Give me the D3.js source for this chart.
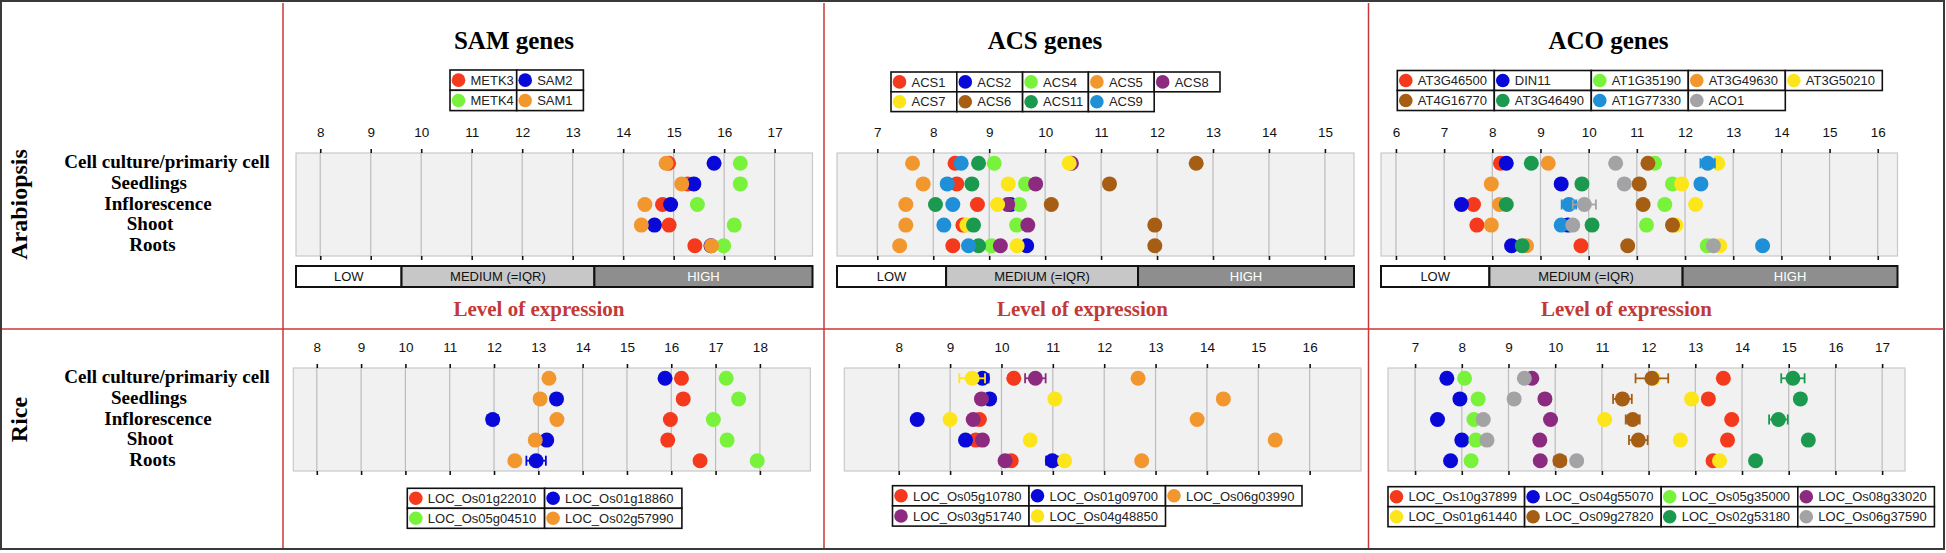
<!DOCTYPE html>
<html><head><meta charset="utf-8">
<script src="https://cdn.jsdelivr.net/npm/d3@7"></script>
<style>body{margin:0;background:#fff}svg{display:block}</style>
</head><body><svg id="c" width="1946" height="553"></svg>
<script>
// ---------------- DATA ----------------
const tissues = ["Cell culture/primariy cell", "Seedlings", "Inflorescence", "Shoot", "Roots"];
const speciesLabels = ["Arabiopsis", "Rice"];
const panelTitles = ["SAM genes", "ACS genes", "ACO genes"];
const levelLabels = ["LOW", "MEDIUM (=IQR)", "HIGH"];
const levelAxisTitle = "Level of expression";

const RED = "#f5391c", BLUE = "#0808d8", LGREEN = "#78f23a", ORANGE = "#f2962e", PURPLE = "#8c2a80",
      YELLOW = "#fde51c", BROWN = "#a55e14", DGREEN = "#1b9a4f", SKY = "#1f8fd8", GRAY = "#a3a3a5";

// Arabidopsis SAM
const samAtGenes = ["METK3", "SAM2", "METK4", "SAM1"];
const samAtColors = [RED, BLUE, LGREEN, ORANGE];
const samAtValues = [
  [14.90, 15.28, 14.78, 14.91, 15.42],
  [15.80, 15.40, 14.94, 14.62, 15.74],
  [16.32, 16.32, 15.47, 16.20, 15.99],
  [14.85, 15.16, 14.43, 14.36, 15.75]
];
const samAtErrors = [[0,0,0,0,0],[0,0,0,0,0],[0,0,0,0,0],[0,0,0,0,0]];
const samAtTicks = [8, 9, 10, 11, 12, 13, 14, 15, 16, 17];
const samAtDomain = [7.52, 17.75];
const samAtLevelCuts = [9.61, 13.43];

// Arabidopsis ACS
const acsAtGenes = ["ACS1", "ACS2", "ACS4", "ACS5", "ACS8", "ACS7", "ACS6", "ACS11", "ACS9"];
const acsAtColors = [RED, BLUE, LGREEN, ORANGE, PURPLE, YELLOW, BROWN, DGREEN, SKY];
const acsAtValues = [
  [8.39, 8.42, 8.79, 8.53, 8.35],
  [null, null, 9.38, null, 9.67],
  [9.09, 9.65, 9.54, 9.49, 9.04],
  [7.63, 7.82, 7.51, 7.51, 7.40],
  [10.47, 9.83, 9.33, 9.69, 9.20],
  [10.43, 9.34, 9.15, 8.60, 9.50],
  [12.70, 11.15, 10.11, 11.96, 11.96],
  [8.81, 8.69, 8.04, 8.72, 8.81],
  [8.50, 8.25, 8.35, 8.19, 8.63]
];
const acsAtErrors = [[0,0,0,0,0],[0,0,0,0,0],[0,0,0,0,0],[0,0,0,0,0],[0,0,0.1,0,0],[0,0,0,0,0],[0,0,0,0,0],[0,0,0,0,0],[0,0,0,0,0]];
const acsAtTicks = [7, 8, 9, 10, 11, 12, 13, 14, 15];
const acsAtDomain = [6.28, 15.52];
const acsAtLevelCuts = [8.23, 11.66];

// Arabidopsis ACO
const acoAtGenes = ["AT3G46500", "DIN11", "AT1G35190", "AT3G49630", "AT3G50210", "AT4G16770", "AT3G46490", "AT1G77330", "ACO1"];
const acoAtColors = [RED, BLUE, LGREEN, ORANGE, YELLOW, BROWN, DGREEN, SKY, GRAY];
const acoAtValues = [
  [8.17, null, 7.61, 7.68, 9.84],
  [8.29, 9.43, 7.36, 9.57, 8.40],
  [11.37, 11.74, 11.58, 11.20, 12.46],
  [9.16, 7.98, 8.15, 7.98, 8.71],
  [12.68, 11.93, 12.22, 11.81, 12.72],
  [11.23, 11.05, 11.13, 11.74, 10.81],
  [8.81, 9.86, 8.29, 10.07, 8.62],
  [12.47, 12.33, 9.59, 9.43, 13.61],
  [10.56, 10.74, 9.91, 9.67, 12.59]
];
const acoAtErrors = [[0,0,0,0,0],[0,0,0,0,0],[0,0,0.1,0,0],[0,0,0,0,0],[0,0,0,0,0],[0,0,0,0,0],[0,0,0,0,0],[0.15,0,0.15,0,0],[0,0,0.24,0,0]];
const acoAtTicks = [6, 7, 8, 9, 10, 11, 12, 13, 14, 15, 16];
const acoAtDomain = [5.69, 16.41];
const acoAtLevelCuts = [7.94, 11.95];

// Rice SAM
const samOsGenes = ["LOC_Os01g22010", "LOC_Os01g18860", "LOC_Os05g04510", "LOC_Os02g57990"];
const samOsColors = [RED, BLUE, LGREEN, ORANGE];
const samOsValues = [
  [16.23, 16.27, 15.98, 15.92, 16.65],
  [15.86, 13.41, 11.97, 13.19, 12.95],
  [17.24, 17.52, 16.95, 17.26, 17.94],
  [13.24, 13.04, 13.42, 12.93, 12.47]
];
const samOsErrors = [[0,0,0,0,0],[0,0,0.12,0,0.22],[0,0,0,0,0],[0,0,0,0,0]];
const samOsTicks = [8, 9, 10, 11, 12, 13, 14, 15, 16, 17, 18];
const samOsDomain = [7.47, 19.14];

// Rice ACS
const acsOsGenes = ["LOC_Os05g10780", "LOC_Os01g09700", "LOC_Os06g03990", "LOC_Os03g51740", "LOC_Os04g48850"];
const acsOsColors = [RED, BLUE, ORANGE, PURPLE, YELLOW];
const acsOsValues = [
  [10.24, null, 9.57, 9.50, 10.19],
  [9.63, 9.77, 8.36, 9.30, 10.99],
  [12.66, 14.32, 13.81, 15.33, 12.73],
  [10.66, 9.61, 9.45, 9.63, 10.07],
  [9.43, 11.04, 9.00, 10.56, 11.23]
];
const acsOsErrors = [[0,0,0,0,0],[0.12,0,0,0,0.12],[0,0,0,0,0],[0.2,0,0,0,0],[0.25,0,0,0,0]];
const acsOsTicks = [8, 9, 10, 11, 12, 13, 14, 15, 16];
const acsOsDomain = [6.94, 17.0];

// Rice ACO
const acoOsGenes = ["LOC_Os10g37899", "LOC_Os04g55070", "LOC_Os05g35000", "LOC_Os08g33020", "LOC_Os01g61440", "LOC_Os09g27820", "LOC_Os02g53180", "LOC_Os06g37590"];
const acoOsColors = [RED, BLUE, LGREEN, PURPLE, YELLOW, BROWN, DGREEN, GRAY];
const acoOsValues = [
  [13.60, 13.28, 13.78, 13.69, 13.38],
  [7.68, 7.96, 7.48, 8.00, 7.76],
  [8.06, 8.35, 8.26, 8.30, 8.20],
  [9.50, 9.78, 9.90, 9.67, 9.68],
  [12.10, 12.92, 11.06, 12.68, 13.52],
  [12.07, 11.44, 11.66, 11.78, 10.10],
  [15.09, 15.25, 14.78, 15.42, 14.29],
  [9.34, 9.12, 8.46, 8.54, 10.46]
];
const acoOsErrors = [[0,0,0,0,0],[0,0,0,0,0],[0,0,0,0,0],[0,0,0,0,0],[0,0,0,0,0],[0.35,0.2,0.15,0.2,0.12],[0.25,0,0.2,0,0],[0,0,0,0,0]];
const acoOsTicks = [7, 8, 9, 10, 11, 12, 13, 14, 15, 16, 17];
const acoOsDomain = [6.42, 17.49];

// ---------------- LAYOUT ----------------
const SERIF = "'Liberation Serif','Times New Roman',serif";
const SANS = "'Liberation Sans',Arial,sans-serif";
const svg = d3.select("#c");

const panels = [
  {genes: samAtGenes, colors: samAtColors, values: samAtValues, errors: samAtErrors, ticks: samAtTicks, domain: samAtDomain, cuts: samAtLevelCuts, title: panelTitles[0],
   x0: 296, x1: 812.5, y0: 153, y1: 256, leg: {x: 450, y: 70, w: 66.7, h: 20.3, cols: 2}, titleX: 514, lvlX: 539},
  {genes: acsAtGenes, colors: acsAtColors, values: acsAtValues, errors: acsAtErrors, ticks: acsAtTicks, domain: acsAtDomain, cuts: acsAtLevelCuts, title: panelTitles[1],
   x0: 837, x1: 1354, y0: 153, y1: 256, leg: {x: 891, y: 72, w: 65.8, h: 19.8, cols: 5}, titleX: 1045, lvlX: 1082.5},
  {genes: acoAtGenes, colors: acoAtColors, values: acoAtValues, errors: acoAtErrors, ticks: acoAtTicks, domain: acoAtDomain, cuts: acoAtLevelCuts, title: panelTitles[2],
   x0: 1381, x1: 1897.5, y0: 153, y1: 256, leg: {x: 1397.3, y: 70.5, w: 97, h: 20, cols: 5}, titleX: 1608.5, lvlX: 1626.5},
  {genes: samOsGenes, colors: samOsColors, values: samOsValues, errors: samOsErrors, ticks: samOsTicks, domain: samOsDomain,
   x0: 293.3, x1: 810.4, y0: 368, y1: 471, leg: {x: 407.3, y: 488.3, w: 137.3, h: 20, cols: 2}},
  {genes: acsOsGenes, colors: acsOsColors, values: acsOsValues, errors: acsOsErrors, ticks: acsOsTicks, domain: acsOsDomain,
   x0: 844.3, x1: 1361, y0: 368, y1: 471, leg: {x: 892.5, y: 485.7, w: 136.5, h: 20.2, cols: 3}},
  {genes: acoOsGenes, colors: acoOsColors, values: acoOsValues, errors: acoOsErrors, ticks: acoOsTicks, domain: acoOsDomain,
   x0: 1388, x1: 1905, y0: 368, y1: 471, leg: {x: 1388, y: 486.7, w: 136.6, h: 20, cols: 4}}
];

// frame
svg.append("rect").attr("x", 1).attr("y", 1).attr("width", 1943).attr("height", 548)
  .attr("fill", "none").attr("stroke", "#3a3a3a").attr("stroke-width", 2);
const frameRed = "#c9383a";
[283, 824, 1368.5].forEach(x => svg.append("line").attr("x1", x).attr("x2", x).attr("y1", 3).attr("y2", 548)
  .attr("stroke", frameRed).attr("stroke-width", 1.5));
svg.append("line").attr("x1", 2).attr("x2", 1944).attr("y1", 329).attr("y2", 329)
  .attr("stroke", frameRed).attr("stroke-width", 1.5);

// species + tissue labels
const labelCenters = [167, 149, 158, 150, 152.5];
const rowBands = [[153, 256], [368, 471]];
rowBands.forEach((rb, si) => {
  const y = d3.scaleBand().domain(tissues).range(rb);
  const mid = (rb[0] + rb[1]) / 2;
  svg.append("text").attr("transform", `translate(27,${mid}) rotate(-90)`)
    .attr("text-anchor", "middle").attr("font-family", SERIF).attr("font-weight", "bold")
    .attr("font-size", 24).text(speciesLabels[si]);
  tissues.forEach((t, j) => {
    svg.append("text").attr("x", labelCenters[j]).attr("y", y(t) + y.bandwidth() / 2 + 5)
      .attr("text-anchor", "middle").attr("font-family", SERIF).attr("font-weight", "bold")
      .attr("font-size", 19).text(t);
  });
});

function drawPanel(p) {
  const g = svg.append("g");
  const x = d3.scaleLinear().domain(p.domain).range([p.x0, p.x1]);
  const y = d3.scaleBand().domain(tissues).range([p.y0, p.y1]);
  const cy = t => y(t) + y.bandwidth() / 2;

  g.append("rect").attr("x", p.x0).attr("y", p.y0).attr("width", p.x1 - p.x0).attr("height", p.y1 - p.y0)
    .attr("fill", "#f1f1f1").attr("stroke", "#c9c9c9").attr("stroke-width", 1.2);
  g.selectAll(".grid").data(p.ticks).join("line")
    .attr("x1", d => x(d)).attr("x2", d => x(d)).attr("y1", p.y0).attr("y2", p.y1)
    .attr("stroke", "#bcbcbc").attr("stroke-width", 1.2);

  const top = g.append("g").attr("transform", `translate(0,${p.y0})`)
    .call(d3.axisTop(x).tickValues(p.ticks).tickSize(4).tickPadding(12).tickFormat(d3.format("d")));
  const bot = g.append("g").attr("transform", `translate(0,${p.y1})`)
    .call(d3.axisBottom(x).tickValues(p.ticks).tickSize(4).tickFormat(""));
  [top, bot].forEach(a => {
    a.select(".domain").remove();
    a.selectAll(".tick line").attr("stroke", "#111").attr("stroke-width", 1.6);
    a.selectAll(".tick text").attr("font-family", SANS).attr("font-size", 13.5).attr("fill", "#111");
  });

  // error bars + dots
  p.genes.forEach((gn, i) => {
    tissues.forEach((t, j) => {
      const v = p.values[i][j], e = p.errors[i][j];
      if (v == null) return;
      if (e) {
        const eg = g.append("g").attr("stroke", p.colors[i]).attr("stroke-width", 1.8);
        eg.append("line").attr("x1", x(v - e)).attr("x2", x(v + e)).attr("y1", cy(t)).attr("y2", cy(t));
        [v - e, v + e].forEach(w => eg.append("line").attr("x1", x(w)).attr("x2", x(w))
          .attr("y1", cy(t) - 5).attr("y2", cy(t) + 5));
      }
      g.append("circle").attr("cx", x(v)).attr("cy", cy(t)).attr("r", 7.5).attr("fill", p.colors[i]);
    });
  });

  // legend
  const L = p.leg;
  p.genes.forEach((gn, i) => {
    const c = i % L.cols, r = Math.floor(i / L.cols);
    const lx = L.x + c * L.w, ly = L.y + r * L.h;
    g.append("rect").attr("x", lx).attr("y", ly).attr("width", L.w).attr("height", L.h)
      .attr("fill", "#fff").attr("stroke", "#111").attr("stroke-width", 1.6);
    g.append("circle").attr("cx", lx + 8.5).attr("cy", ly + L.h / 2).attr("r", 6.8).attr("fill", p.colors[i]);
    g.append("text").attr("x", lx + 20.5).attr("y", ly + L.h / 2 + 4.7)
      .attr("font-family", SANS).attr("font-size", 13).attr("fill", "#222").text(gn);
  });

  if (p.title) {
    g.append("text").attr("x", p.titleX).attr("y", 48.5).attr("text-anchor", "middle")
      .attr("font-family", SERIF).attr("font-weight", "bold").attr("font-size", 25).text(p.title);
  }
  if (p.cuts) {
    const bounds = [p.domain[0], p.cuts[0], p.cuts[1], p.domain[1]];
    const fills = ["#ffffff", "#c7c7c7", "#8e8e8e"];
    const txt = ["#111", "#111", "#fff"];
    levelLabels.forEach((lab, k) => {
      const a = x(bounds[k]), b = x(bounds[k + 1]);
      g.append("rect").attr("x", a).attr("y", 266).attr("width", b - a).attr("height", 21)
        .attr("fill", fills[k]).attr("stroke", "#111").attr("stroke-width", 2);
      g.append("text").attr("x", (a + b) / 2).attr("y", 281).attr("text-anchor", "middle")
        .attr("font-family", SANS).attr("font-size", 13).attr("fill", txt[k]).text(lab);
    });
    g.append("text").attr("x", p.lvlX).attr("y", 315.5).attr("text-anchor", "middle")
      .attr("font-family", SERIF).attr("font-weight", "bold").attr("font-size", 21)
      .attr("fill", "#c23a36").text(levelAxisTitle);
  }
}
panels.forEach(drawPanel);
</script></body></html>
